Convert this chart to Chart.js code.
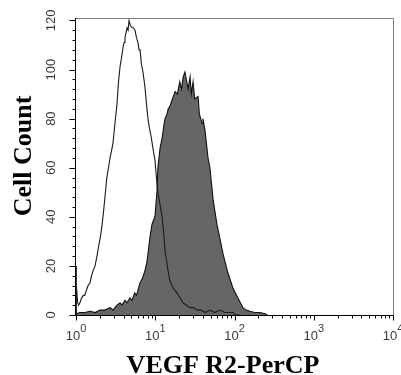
<!DOCTYPE html>
<html>
<head>
<meta charset="utf-8">
<script src="https://cdn.jsdelivr.net/npm/chart.js@4"></script>
<style>
  body { margin: 0; background: #fff; }
  #wrap { width: 401px; height: 375px; position: relative; }
</style>
</head>
<body>
<div id="wrap"><canvas id="histo"></canvas></div>
<script>
// isotype control (open histogram)
const isoFluor = [1.00, 1.00, 1.02, 1.05, 1.08, 1.12, 1.18, 1.24, 1.29, 1.35, 1.42, 1.50, 1.57, 1.64, 1.74, 1.84, 1.93, 2.01, 2.10, 2.19, 2.32, 2.45, 2.57, 2.69, 2.81, 2.93, 3.10, 3.29, 3.44, 3.59, 3.76, 3.92, 4.05, 4.15, 4.28, 4.41, 4.54, 4.67, 4.85, 5.09, 5.30, 5.55, 5.80, 6.05, 6.25, 6.43, 6.70, 7.00, 7.20, 7.41, 7.75, 8.09, 8.45, 8.83, 9.35, 9.93, 10.4, 10.8, 11.5, 12.2, 12.8, 13.3, 13.9, 14.5, 15.3, 16.8, 18.8, 20.5, 22.4, 24.8, 27.5, 30.5, 33.7, 38, 43, 49, 56, 65, 76, 85, 95, 105, 117];
const isoCount = [0, 20, 12, 5, 4, 5, 7, 8, 8, 10, 12, 13, 16, 18, 20, 24, 28, 31, 35, 40, 48, 56, 60, 64, 67, 70, 78, 86, 95, 101, 105, 109, 111, 113, 115, 117, 116, 120, 118, 117, 117, 116, 113, 111, 108, 108, 102, 99, 96, 93, 86, 80, 76, 73, 68, 63, 55, 50, 45, 40, 33, 26, 22, 18, 14, 11, 9, 7, 5, 4, 3, 3, 2, 2, 1, 2, 1, 2, 1, 1, 1, 0, 0];

// VEGF R2-PerCP stained (filled histogram)
const vegfFluor = [1.0, 1.12, 1.3, 1.5, 1.75, 2.0, 2.3, 2.7, 2.95, 3.1, 3.3, 3.6, 3.8, 4.15, 4.4, 4.8, 5.1, 5.5, 5.8, 6.4, 6.9, 7.4, 7.8, 8.1, 8.6, 9.1, 9.9, 10.5, 10.8, 11.5, 12.2, 12.8, 13.3, 14.1, 14.6, 15.3, 16.5, 17.8, 19, 20.4, 21.5, 22.5, 23.7, 25, 26, 27.5, 28.5, 30, 31.5, 34.7, 36, 38.9, 40, 42.5, 46.3, 49, 53.7, 60, 65.6, 71.6, 82.8, 95.5, 110, 128, 140, 157, 180, 210, 243, 260];
const vegfCount = [0.5, 1, 1, 1.5, 1, 2, 2, 3, 2, 3, 4, 5, 4, 6, 5, 7, 6, 9, 8, 13, 15, 18, 21, 25, 32, 37, 40, 50, 60, 68, 72, 77, 80, 82, 84, 85, 88, 91, 90, 95, 92, 97, 99, 95, 92, 97, 90, 95, 88, 89, 82, 78, 80, 75, 64, 60, 47, 37, 31, 25, 17, 11, 7, 3, 2, 1.5, 1, 1, 0.5, 0];

// axis labels
const xDecades = [1, 10, 100, 1000, 10000];
const xExponents = ['0', '1', '2', '3', '4'];
const yLabels = [0, 20, 40, 60, 80, 100, 120];
const xTitle = 'VEGF R2-PerCP';
const yTitle = 'Cell Count';

const toPts = (xs, ys) => xs.map((v, i) => ({ x: v, y: ys[i] }));

// frame, ticks and labels drawn from the scales
const axesPlugin = {
  id: 'axesPlugin',
  afterDatasetsDraw(chart) {
    const { ctx, chartArea: a, scales: { x, y } } = chart;
    ctx.save();

    // top / right border (grey)
    ctx.strokeStyle = '#7c7c7c';
    ctx.lineWidth = 1;
    ctx.beginPath();
    ctx.moveTo(a.left, a.top + 0.5);
    ctx.lineTo(a.right + 0.5, a.top + 0.5);
    ctx.lineTo(a.right + 0.5, a.bottom);
    ctx.stroke();

    // left / bottom axis (black)
    ctx.strokeStyle = '#000';
    ctx.beginPath();
    ctx.moveTo(a.left - 0.5, a.top);
    ctx.lineTo(a.left - 0.5, a.bottom + 0.5);
    ctx.lineTo(a.right + 1, a.bottom + 0.5);
    ctx.stroke();

    // y ticks every 4, labels every 20
    ctx.beginPath();
    for (let v = 0; v <= 120; v += 4) {
      const py = Math.round(y.getPixelForValue(v)) + 0.5;
      const len = v % 20 === 0 ? 6 : 3;
      ctx.moveTo(a.left - 0.5 - len, py);
      ctx.lineTo(a.left - 0.5, py);
    }
    // x log ticks
    xDecades.forEach((d, i) => {
      for (let m = 1; m <= 9; m++) {
        const v = d * m;
        if (v > 10000) break;
        const px = Math.round(x.getPixelForValue(v)) + 0.5;
        const len = m === 1 ? 5 : 3;
        ctx.moveTo(px, a.bottom + 0.5);
        ctx.lineTo(px, a.bottom + 0.5 + len);
      }
    });
    ctx.stroke();

    ctx.fillStyle = '#3a3a3a';
    yLabels.forEach(v => {
      const py = y.getPixelForValue(v);
      ctx.save();
      ctx.translate(51, py);
      ctx.rotate(-Math.PI / 2);
      ctx.font = '13px "Liberation Sans", Arial, sans-serif';
      ctx.textAlign = 'center';
      ctx.textBaseline = 'middle';
      ctx.fillText(String(v), 0, 0);
      ctx.restore();
    });

    xDecades.forEach((d, i) => {
      const px = x.getPixelForValue(d);
      ctx.font = '13px "Liberation Sans", Arial, sans-serif';
      const wBase = ctx.measureText('10').width;
      ctx.font = '11px "Liberation Sans", Arial, sans-serif';
      const wExp = ctx.measureText(xExponents[i]).width;
      const x0 = px - (wBase + wExp) / 2;
      ctx.textAlign = 'left';
      ctx.textBaseline = 'alphabetic';
      ctx.font = '13px "Liberation Sans", Arial, sans-serif';
      ctx.fillText('10', x0, 340);
      ctx.font = '11px "Liberation Sans", Arial, sans-serif';
      ctx.fillText(xExponents[i], x0 + wBase, 332);
    });

    // axis titles
    ctx.fillStyle = '#000';
    ctx.font = 'bold 26px "Liberation Serif", "Times New Roman", serif';
    ctx.textAlign = 'center';
    ctx.textBaseline = 'alphabetic';
    ctx.fillText(xTitle, 223, 373);

    ctx.save();
    ctx.translate(31, 156);
    ctx.rotate(-Math.PI / 2);
    ctx.fillText(yTitle, 0, 0);
    ctx.restore();

    ctx.restore();
  }
};

new Chart(document.getElementById('histo'), {
  type: 'line',
  data: {
    datasets: [
      {
        label: 'Isotype',
        data: toPts(isoFluor, isoCount),
        borderColor: '#1a1a1a',
        borderWidth: 1.1,
        backgroundColor: 'rgba(0,0,0,0)',
        fill: false,
        pointRadius: 0,
        tension: 0
      },
      {
        label: 'VEGF R2',
        data: toPts(vegfFluor, vegfCount),
        borderColor: '#111',
        borderWidth: 1.1,
        backgroundColor: '#666666',
        fill: 'origin',
        pointRadius: 0,
        tension: 0
      }
    ]
  },
  options: {
    responsive: true,
    maintainAspectRatio: false,
    animation: false,
    layout: { padding: { left: 76, right: 8, top: 18, bottom: 60 } },
    plugins: { legend: { display: false }, tooltip: { enabled: false } },
    scales: {
      x: { type: 'logarithmic', min: 1, max: 10000, display: false },
      y: { type: 'linear', min: 0, max: 121, display: false }
    }
  },
  plugins: [axesPlugin]
});
</script>
</body>
</html>
